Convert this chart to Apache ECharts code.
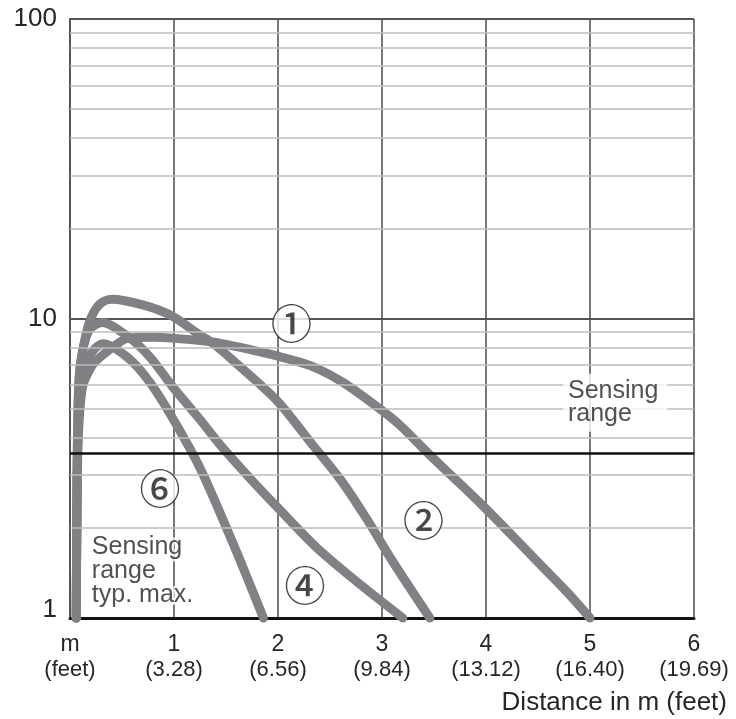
<!DOCTYPE html>
<html>
<head>
<meta charset="utf-8">
<script src="https://cdn.jsdelivr.net/npm/echarts@6/dist/echarts.min.js"></script>
<style>
html,body{margin:0;padding:0;background:#fff;}
#chart{width:736px;height:719px;}
</style>
</head>
<body>
<div id="chart"></div>
<script>
// ---- tick labels ----
const xTickMeters = ['m', '1', '2', '3', '4', '5', '6'];
const xTickFeet = ['(feet)', '(3.28)', '(6.56)', '(9.84)', '(13.12)', '(16.40)', '(19.69)'];
const xAxisTitle = 'Distance in m (feet)';
const minorGridValues = [2, 3, 4, 5, 6, 7, 8, 9, 20, 30, 40, 50, 60, 70, 80, 90];
const sensingRangeLimit = 3.55;

// ---- curves [distance m, value] ----
const curve1 = [[0.06,1],[0.065,2],[0.08,4],[0.12,5.9],[0.21,6.94],[0.29,7.43],[0.47,8.3],[0.56,8.6],[0.8,8.65],[0.98,8.6],[1.37,8.35],[1.57,8.1],[1.99,7.5],[2.31,6.96],[2.62,6.13],[2.98,4.99],[3.17,4.41],[3.49,3.42],[3.97,2.37],[4.45,1.6],[4.78,1.22],[5.0,1]];
const curve2 = [[0.06,1],[0.065,2],[0.072,4],[0.09,6.5],[0.14,8.4],[0.2,10],[0.29,11.2],[0.4,11.6],[0.7,11.1],[0.98,10.2],[1.25,8.8],[1.37,8.28],[1.57,7.23],[1.99,5.32],[2.31,3.87],[2.6,2.9],[2.85,2.15],[3.1,1.55],[3.46,1]];
const curve4 = [[0.06,1],[0.065,2],[0.075,4.5],[0.1,7],[0.18,9.1],[0.31,9.7],[0.56,8.68],[0.77,7.43],[0.98,5.96],[1.25,4.6],[1.44,3.8],[1.73,2.93],[2.0,2.33],[2.37,1.72],[2.76,1.32],[3.2,1]];
const curve6 = [[0.06,1],[0.065,2],[0.075,4],[0.1,5.4],[0.15,6.9],[0.22,7.8],[0.32,8.24],[0.56,7.38],[0.77,6.11],[0.98,4.69],[1.25,3.17],[1.56,1.8],[1.86,1]];

// ---- annotations ----
const markerText = ['①', '②', '④', '⑥'];
const markerX = [2.13, 3.40, 2.26, 0.865];
const markerY = [9.65, 2.11, 1.28, 2.71];
const noteRightText = 'Sensing\nrange';
const noteRightPos = [4.74, 5.23];
const noteLeftText = 'Sensing\nrange\ntyp. max.';
const noteLeftPos = [0.21, 1.43];

const FONT = 'Liberation Sans';
const TXT = '#262626';
const curveStyle = { color: '#7f8184', width: 9, cap: 'round', join: 'round' };

function curveSeries(name, data) {
  return {
    name: name, type: 'line', data: data, smooth: 0.3,
    symbol: 'none', showSymbol: false, lineStyle: curveStyle, z: 4, clip: false, silent: true
  };
}

const chart = echarts.init(document.getElementById('chart'));
chart.setOption({
  backgroundColor: '#fff',
  animation: false,
  title: {
    text: xAxisTitle, right: 4, top: 685,
    textStyle: { fontFamily: FONT, fontSize: 26, fontWeight: 'normal', color: TXT }
  },
  grid: { left: 70, right: 42, top: 19, bottom: 101, containLabel: false, outerBoundsMode: 'none' },
  xAxis: {
    type: 'value', min: 0, max: 6, interval: 1,
    axisLine: { show: true, lineStyle: { color: '#111', width: 3 } },
    axisTick: { show: false },
    splitLine: { show: true, lineStyle: { color: '#555', width: 1.6 } },
    axisLabel: {
      margin: 14, color: TXT, fontFamily: FONT, fontSize: 23, lineHeight: 25,
      formatter: function (v) {
        const i = Math.round(v);
        return '{m|' + xTickMeters[i] + '}\n{f|' + xTickFeet[i] + '}';
      },
      rich: {
        m: { fontFamily: FONT, fontSize: 23, lineHeight: 25, color: TXT },
        f: { fontFamily: FONT, fontSize: 22, lineHeight: 25, color: TXT }
      }
    }
  },
  yAxis: {
    type: 'log', logBase: 10, min: 1, max: 100,
    axisLine: { show: true, lineStyle: { color: '#555', width: 2 } },
    axisTick: { show: false },
    splitLine: { show: true, lineStyle: { color: '#555', width: 1.8 } },
    minorTick: { show: false },
    minorSplitLine: { show: false },
    axisLabel: {
      margin: 13, color: TXT, fontFamily: FONT, fontSize: 26,
      formatter: function (v) {
        const r = Math.round(v);
        return r === 1 ? '{low|1}' : String(r);
      },
      rich: { low: { fontFamily: FONT, fontSize: 26, color: TXT, padding: [0, 0, 16, 0] } }
    }
  },
  series: [
    {
      name: 'minorGrid', type: 'line', data: [[0, 1]], symbol: 'none', showSymbol: false,
      lineStyle: { opacity: 0 }, z: 1, silent: true,
      markLine: {
        silent: true, symbol: 'none', label: { show: false },
        lineStyle: { color: '#bdbdbd', width: 1.6, type: 'solid' },
        data: minorGridValues.map(function (v) { return { yAxis: v }; })
      }
    },
    {
      name: 'sensingRange', type: 'line', data: [[0, 1]], symbol: 'none', showSymbol: false,
      lineStyle: { opacity: 0 }, z: 3, silent: true,
      markLine: {
        silent: true, symbol: 'none', label: { show: false },
        lineStyle: { color: '#111', width: 2.6, type: 'solid' },
        data: [{ yAxis: sensingRangeLimit }]
      }
    },
    curveSeries('curve1', curve1),
    curveSeries('curve2', curve2),
    curveSeries('curve4', curve4),
    curveSeries('curve6', curve6),
    {
      name: 'markers', type: 'scatter', symbolSize: 0, z: 6, silent: true,
      data: markerX.map(function (x, i) { return { value: [x, markerY[i]], name: markerText[i] }; }),
      label: {
        show: true, position: 'inside',
        formatter: function (p) { return '{c|' + p.name + '}'; },
        rich: {
          c: {
            fontFamily: 'Noto Sans CJK JP', fontSize: 41, fontWeight: 500, color: '#1a1a1a',
            backgroundColor: '#fff', borderRadius: 19, width: 38, height: 38, lineHeight: 38, align: 'center'
          }
        }
      }
    },
    {
      name: 'noteRight', type: 'scatter', symbolSize: 0, z: 6, silent: true,
      data: [{ value: noteRightPos, name: noteRightText }],
      label: {
        show: true, position: 'inside', align: 'left', verticalAlign: 'middle',
        formatter: function (p) { return p.name; },
        fontFamily: FONT, fontSize: 25, lineHeight: 23, color: TXT,
        backgroundColor: '#fff', padding: [6, 9, 6, 5]
      }
    },
    {
      name: 'noteLeft', type: 'scatter', symbolSize: 0, z: 6, silent: true,
      data: [{ value: noteLeftPos, name: noteLeftText }],
      label: {
        show: true, position: 'inside', align: 'left', verticalAlign: 'middle',
        formatter: function (p) { return p.name; },
        fontFamily: FONT, fontSize: 25, lineHeight: 24, color: TXT,
        textBorderColor: '#fff', textBorderWidth: 5
      }
    }
  ]
});
</script>
</body>
</html>
